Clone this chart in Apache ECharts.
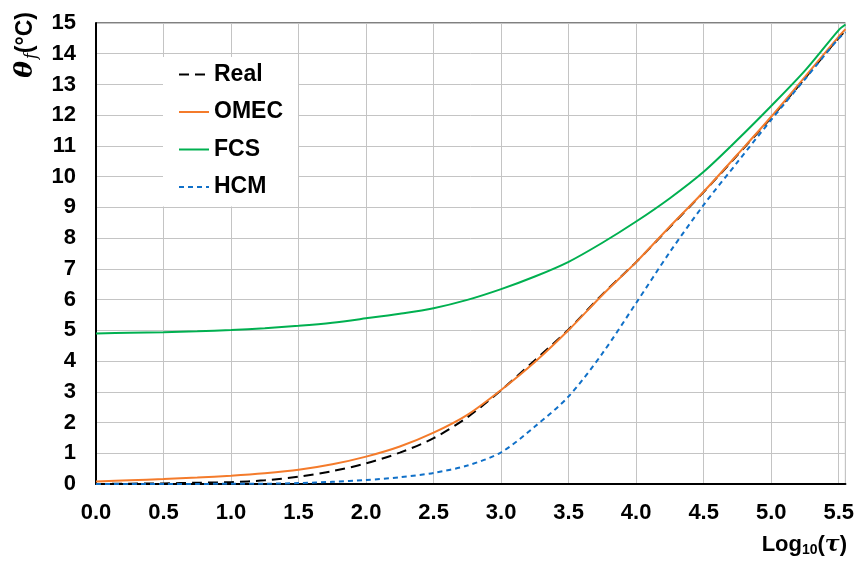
<!DOCTYPE html>
<html>
<head>
<meta charset="utf-8">
<script src="https://cdn.jsdelivr.net/npm/echarts@6/dist/echarts.min.js"></script>
<style>html,body{margin:0;padding:0;background:#fff;}#c{width:857px;height:561px;}</style>
</head>
<body>
<div id="c"></div>
<script>
var xValues = [0, 0.25, 0.5, 0.75, 1.0, 1.25, 1.5, 1.75, 2.0, 2.25, 2.5, 2.75, 3.0, 3.25, 3.5, 3.75, 4.0, 4.25, 4.5, 4.75, 5.0, 5.25, 5.5, 5.55];
var realValues = [0.0, 0.01, 0.02, 0.04, 0.06, 0.12, 0.24, 0.42, 0.67, 1.02, 1.49, 2.17, 3.05, 4.03, 5.03, 6.17, 7.22, 8.36, 9.5, 10.7, 11.92, 13.2, 14.52, 14.75];
var omecValues = [0.08, 0.12, 0.16, 0.21, 0.27, 0.35, 0.46, 0.64, 0.89, 1.22, 1.67, 2.25, 3.06, 3.97, 5.01, 6.15, 7.22, 8.38, 9.51, 10.72, 11.95, 13.25, 14.56, 14.8];
var fcsValues = [4.90, 4.92, 4.94, 4.97, 5.01, 5.07, 5.15, 5.25, 5.39, 5.54, 5.72, 5.99, 6.34, 6.75, 7.23, 7.85, 8.54, 9.3, 10.16, 11.2, 12.3, 13.45, 14.77, 14.95];
var hcmValues = [0.0, 0.0, 0.0, 0.0, 0.01, 0.01, 0.03, 0.07, 0.13, 0.22, 0.36, 0.6, 1.03, 1.87, 2.85, 4.25, 5.89, 7.55, 9.08, 10.47, 11.85, 13.17, 14.5, 14.7];
var seriesNames = ['Real', 'OMEC', 'FCS', 'HCM'];

function pairs(ys) { return xValues.map(function (x, i) { return [x, ys[i]]; }); }

var chart = echarts.init(document.getElementById('c'));
var labelFont = { fontFamily: 'Liberation Sans, Arial, sans-serif', fontWeight: 'bold', fontSize: 22, color: '#000' };
chart.setOption({
  backgroundColor: '#fff',
  animation: false,
  grid: { left: 96, right: 11, top: 23, bottom: 77, show: true, borderColor: '#000', borderWidth: 1, backgroundColor: 'transparent' },
  xAxis: {
    type: 'value', min: 0, max: 5.55, interval: 0.5,
    axisLine: { show: true, onZero: false, lineStyle: { color: '#000', width: 2 } },
    axisTick: { show: false },
    axisLabel: Object.assign({ margin: 18, showMaxLabel: false, formatter: function (v) { return v.toFixed(1); } }, labelFont),
    splitLine: { show: true, lineStyle: { color: '#c4c4c4', width: 1 } }
  },
  yAxis: {
    type: 'value', min: 0, max: 15, interval: 1,
    axisLine: { show: true, lineStyle: { color: '#000', width: 2 } },
    axisTick: { show: false },
    axisLabel: Object.assign({ margin: 20 }, labelFont),
    splitLine: { show: true, lineStyle: { color: '#c4c4c4', width: 1 } }
  },
  legend: {
    orient: 'vertical', left: 163, top: 57,
    padding: [6, 15, 8, 15],
    backgroundColor: '#fff',
    itemWidth: 30, itemHeight: 20, itemGap: 14.5,
    itemStyle: { opacity: 0, borderWidth: 0 },
    textStyle: { fontFamily: 'Liberation Sans, Arial, sans-serif', fontWeight: 'bold', fontSize: 23, color: '#000' },
    data: seriesNames
  },
  series: [
    { name: 'Real', type: 'line', data: pairs(realValues), showSymbol: false, symbol: 'none', smooth: 0.3,
      lineStyle: { color: '#000', width: 2, type: [10, 6] }, itemStyle: { color: '#000' } },
    { name: 'OMEC', type: 'line', data: pairs(omecValues), showSymbol: false, symbol: 'none', smooth: 0.3,
      lineStyle: { color: '#F47B2B', width: 2 }, itemStyle: { color: '#F47B2B' } },
    { name: 'FCS', type: 'line', data: pairs(fcsValues), showSymbol: false, symbol: 'none', smooth: 0.3,
      lineStyle: { color: '#00B050', width: 2 }, itemStyle: { color: '#00B050' } },
    { name: 'HCM', type: 'line', data: pairs(hcmValues), showSymbol: false, symbol: 'none', smooth: 0.3,
      lineStyle: { color: '#1070C8', width: 2, type: [5, 4] }, itemStyle: { color: '#1070C8' } }
  ],
  graphic: [
    { type: 'text', left: 13, top: 12, rotation: Math.PI / 2, originX: 0, originY: 0,
      style: { text: '{th|θ}{sub|f}{n|(°C)}', rich: {
        th: { fontFamily: 'DejaVu Serif, serif', fontStyle: 'italic', fontWeight: 'bold', fontSize: 25, fill: '#000' },
        sub: { fontFamily: 'DejaVu Serif, serif', fontStyle: 'italic', fontSize: 16, fill: '#000', padding: [12, 0, 0, 2] },
        n: { fontFamily: 'Liberation Sans, Arial, sans-serif', fontWeight: 'bold', fontSize: 23, fill: '#000' } } } },
    { type: 'text', right: 10, top: 534,
      style: { text: '{n|Log}{sub|10}{n|(}{t|τ}{n|)}', rich: {
        n: { fontFamily: 'Liberation Sans, Arial, sans-serif', fontWeight: 'bold', fontSize: 22, fill: '#000' },
        sub: { fontFamily: 'Liberation Sans, Arial, sans-serif', fontWeight: 'bold', fontSize: 14, fill: '#000', padding: [10, 0, 0, 0] },
        t: { fontFamily: 'DejaVu Serif, serif', fontStyle: 'italic', fontWeight: 'bold', fontSize: 22, fill: '#000' } } } }
  ]
});
</script>
</body>
</html>
